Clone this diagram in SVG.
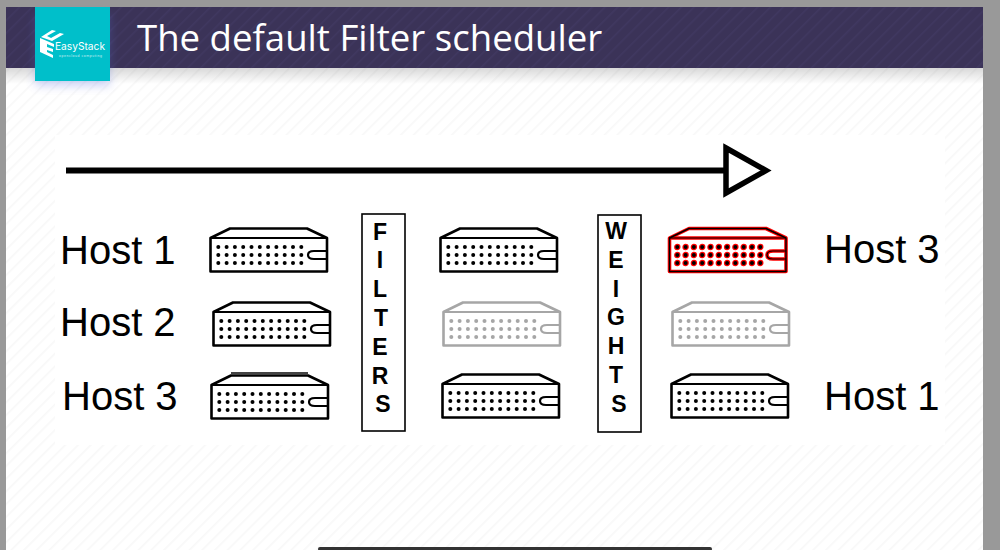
<svg xmlns="http://www.w3.org/2000/svg" width="1000" height="550" viewBox="0 0 1000 550">
<style>
.lbl{font-family:"Liberation Sans",Arial,sans-serif;font-size:40px;fill:#000}
.ltr{font-family:"Liberation Sans",Arial,sans-serif;font-size:23px;font-weight:bold;fill:#000;text-anchor:middle}
.box{fill:#fff;stroke:#000;stroke-width:1.6}
.gray{stroke:#a6a6a6;fill:#a6a6a6}
</style>
<defs>
<pattern id="hatch" width="9" height="9" patternUnits="userSpaceOnUse" patternTransform="rotate(45)">
<rect width="9" height="9" fill="#fff"/><rect width="1.6" height="9" fill="#f8f8f8"/>
</pattern>
<pattern id="hatchD" width="9" height="9" patternUnits="userSpaceOnUse" patternTransform="rotate(45)">
<rect width="9" height="9" fill="#3b3358"/><rect width="1.6" height="9" fill="#403860"/>
</pattern>
<linearGradient id="shade" x1="0" y1="0" x2="0" y2="1"><stop offset="0" stop-color="#000" stop-opacity=".15"/><stop offset="1" stop-color="#000" stop-opacity="0"/></linearGradient>
<filter id="glow" x="-30%" y="-30%" width="160%" height="160%"><feGaussianBlur stdDeviation="5"/></filter>
<g id="dotrow"><circle cx="8.300" cy="0" r="2"/><circle cx="16.600" cy="0" r="2"/><circle cx="24.900" cy="0" r="2"/><circle cx="33.200" cy="0" r="2"/><circle cx="41.500" cy="0" r="2"/><circle cx="49.800" cy="0" r="2"/><circle cx="58.100" cy="0" r="2"/><circle cx="66.400" cy="0" r="2"/><circle cx="74.700" cy="0" r="2"/><circle cx="83" cy="0" r="2"/><circle cx="91.300" cy="0" r="2"/></g>
<g id="dots"><use href="#dotrow" y="19"/><use href="#dotrow" y="27"/><use href="#dotrow" y="35"/></g>
<path id="shell" d="M0.500 10 L20 0.500 H97 L117 10 V43.500 H0.500 Z" stroke-linejoin="round"/>
<path id="inner" d="M0.500 10 H117 M117 23 H104 Q98 23 98 27 Q98 31 104 31 H117" fill="none"/>
<g id="server">
<use href="#shell" fill="#fff" stroke-width="2.600"/>
<use href="#inner" stroke-width="2.200"/>
<use href="#dots" stroke="none"/>
</g>
</defs>
<rect width="1000" height="550" fill="#999"/>
<rect x="6" y="7" width="977" height="543" fill="url(#hatch)"/>
<rect x="6" y="68" width="977" height="16" fill="url(#shade)"/>
<rect x="55" y="135" width="890" height="310" fill="#fff"/>
<rect x="6" y="7" width="977" height="61" fill="url(#hatchD)"/>
<rect x="35" y="14" width="75" height="72" fill="#5a6fe0" opacity=".3" filter="url(#glow)"/>
<g id="logo">
<rect x="35" y="7" width="75" height="74" fill="#00bfca"/>
<g fill="#fff">
<path d="M41 37 L52 30 L56 31 L47 36 L51 38 L60 33 L64 34 L52 41 Z"/>
<path d="M40 38 L54 44 L54 47 L47 44 L47 47 L53 49 L53 52 L47 50 L47 52 L53 55 L53 58 L40 52 Z"/>
</g>
<text x="55" y="50" font-family="Inter,'Liberation Sans',Arial,sans-serif" font-size="10.500" fill="#fff" textLength="50" lengthAdjust="spacingAndGlyphs">EasyStack</text>
<text x="59" y="57" font-family="'Liberation Sans',Arial,sans-serif" font-size="3.500" fill="#cfeff2" textLength="43">opencloud computing</text>
</g>
<text id="title" x="137" y="51" font-family="'Open Sans','Noto Sans',sans-serif" font-size="36.600" fill="#fff">The default Filter scheduler</text>
<g id="connectors">
<path d="M66 170.500 H726" stroke="#000" stroke-width="6" fill="none"/>
<path d="M726 148 L766 170.500 L726 193 Z" fill="#fff" stroke="#000" stroke-width="5.500"/>
</g>
<g id="host1-label"><text class="lbl" x="60" y="264">Host 1</text></g>
<g id="host2-label"><text class="lbl" x="60" y="336">Host 2</text></g>
<g id="host3-label"><text class="lbl" x="62" y="410">Host 3</text></g>
<g id="result-host3-label"><text class="lbl" x="824" y="263">Host 3</text></g>
<g id="result-host1-label"><text class="lbl" x="824" y="410">Host 1</text></g>
<g id="srv-a1" stroke="#000" transform="translate(210 228)"><use href="#server"/></g>
<g id="srv-a2" stroke="#000" transform="translate(213 302)"><use href="#server"/></g>
<g id="srv-a3" stroke="#000" transform="translate(211 375)"><path d="M20 -2 H97" stroke="#444" stroke-width="2"/><use href="#server"/></g>
<g id="srv-b1" stroke="#000" transform="translate(440 228)"><use href="#server"/></g>
<g id="srv-b2" class="gray" transform="translate(443 302)"><use href="#server"/></g>
<g id="srv-b3" stroke="#000" transform="translate(442 374)"><use href="#server"/></g>
<g id="srv-c1" transform="translate(669 228)">
<use href="#shell" fill="#fff" stroke="#f00" stroke-width="3.600"/>
<use href="#inner" stroke="#f00" stroke-width="3.600"/>
<use href="#shell" fill="none" stroke="#000" stroke-width="1.400"/>
<use href="#inner" stroke="#000" stroke-width="1.200"/>
<use href="#dots" fill="#000" stroke="#f00" stroke-width="2.400" paint-order="stroke"/>
</g>
<g id="srv-c2" class="gray" transform="translate(672 302)"><use href="#server"/></g>
<g id="srv-c3" stroke="#000" transform="translate(671 374)"><use href="#server"/></g>
<g id="filters">
<rect class="box" x="362" y="214" width="43" height="217"/>
<text class="ltr" x="380" y="240">F</text><text class="ltr" x="380" y="268">I</text><text class="ltr" x="380" y="297">L</text><text class="ltr" x="381" y="326">T</text><text class="ltr" x="380" y="355">E</text><text class="ltr" x="380" y="384">R</text><text class="ltr" x="383" y="412">S</text>
</g>
<g id="weights">
<rect class="box" x="598" y="215" width="43" height="217"/>
<text class="ltr" x="616" y="239">W</text><text class="ltr" x="616" y="268">E</text><text class="ltr" x="616" y="297">I</text><text class="ltr" x="616" y="325">G</text><text class="ltr" x="616" y="354">H</text><text class="ltr" x="616" y="383">T</text><text class="ltr" x="619" y="412">S</text>
</g>
<rect x="318" y="547" width="394" height="4" rx="2" fill="#333"/>
</svg>
